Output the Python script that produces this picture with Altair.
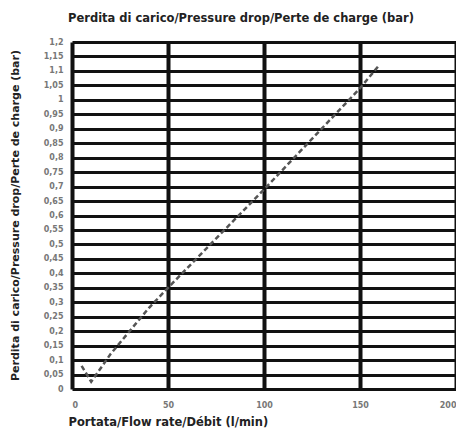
import altair as alt
import pandas as pd

flow = [5, 10, 20, 30, 40, 50, 75, 100, 125, 150, 160]
drop = [0.08, 0.025, 0.12, 0.20, 0.28, 0.35, 0.52, 0.69, 0.865, 1.04, 1.12]

x_ticks = [0, 50, 100, 150, 200]
y_ticks = [round(i * 0.05, 2) for i in range(25)]

df = pd.DataFrame({"flow": flow, "drop": drop})

FONT = "DejaVu Sans"

chart = alt.Chart(df).mark_line(
    color="#555555", strokeWidth=2.5, strokeDash=[5, 3]
).encode(
    x=alt.X("flow:Q", scale=alt.Scale(domain=[0, 200], nice=False),
            axis=alt.Axis(values=x_ticks, title="Portata/Flow rate/Débit (l/min)",
                          grid=True, gridColor="#111111", gridWidth=4, gridOpacity=1,
                          domain=False, ticks=False, labelPadding=12,
                          labelFontSize=8, labelColor="#777777", labelFontWeight="bold",
                          titleFontSize=11.5, titleFontWeight="bold", titleColor="#222222",
                          titleAnchor="start", titleAlign="left", titleX=-4, titleY=36,
                          titleBaseline="alphabetic")),
    y=alt.Y("drop:Q", scale=alt.Scale(domain=[0, 1.2], nice=False),
            axis=alt.Axis(values=y_ticks,
                          labelExpr="replace(format(datum.value, '~g'), '.', ',')",
                          title="Perdita di carico/Pressure drop/Perte de charge (bar)",
                          grid=True, gridColor="#111111", gridWidth=3, gridOpacity=1,
                          domain=False, ticks=False, labelPadding=9,
                          labelFontSize=8, labelColor="#777777", labelFontWeight="bold",
                          labelOverlap=False,
                          titleFontSize=11, titleFontWeight="bold", titleColor="#222222",
                          titleX=-52, titleY=173, titleAlign="center", titleAngle=-90)),
).properties(
    width=384, height=347,
    title=alt.TitleParams("Perdita di carico/Pressure drop/Perte de charge (bar)",
                          anchor="start", frame="group", dx=-4, offset=14, fontSize=11.5,
                          fontWeight="bold", color="#222222", font=FONT),
    autosize=alt.AutoSizeParams(type="none"),
    padding={"left": 64, "top": 34, "right": 0, "bottom": 46},
).configure(font=FONT).configure_view(stroke=None)

chart.save("out.html", embed_options={"renderer": "svg", "actions": False})
